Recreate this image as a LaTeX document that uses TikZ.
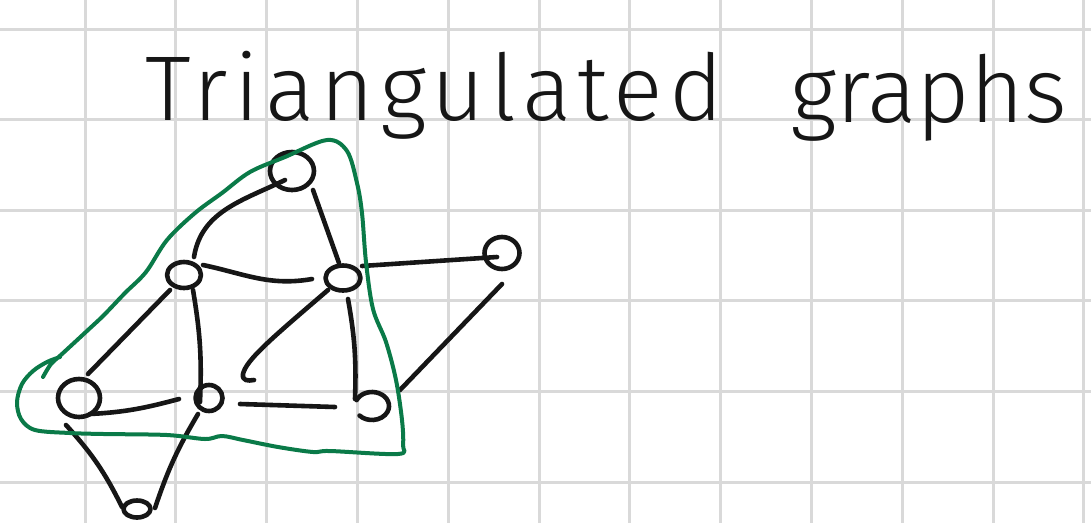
\documentclass[tikz,border=0pt]{standalone}
\usepackage{fontspec}
\IfFontExistsTF{Fira Sans Light}
  {\newfontfamily\handfont{Fira Sans Light}}
  {\newfontfamily\handfont{Fira Sans}}
\usetikzlibrary{shapes.geometric}
\definecolor{hullgreen}{RGB}{10,122,72}
\definecolor{penink}{RGB}{22,22,22}

\begin{document}
\begin{tikzpicture}[x=1pt,y=1pt,
  ink/.style={line width=4.6pt, line cap=round, line join=round, draw=penink},
  vertex/.style={ellipse, ink, inner sep=0pt, outer sep=0pt},
  hull/.style={line width=4pt, draw=hullgreen, line cap=round, line join=round},
  gridline/.style={line width=3pt, draw=black!15},
  title/.style={anchor=base west, inner sep=0pt, text=penink,
    font=\handfont\fontsize{92}{92}\selectfont}]

% paper and squared grid
\fill[white] (0,0) rectangle (1091,-523);
\useasboundingbox (0,0) rectangle (1091,-523);
\foreach \i in {0,...,11}
  \draw[gridline] ({85+90.8*\i},0) -- ({85+90.8*\i},-523);
\foreach \j in {0,...,5}
  \draw[gridline] (0,{-29-90.6*\j}) -- (1091,{-29-90.6*\j});

% heading
\node[title] (head1) at (145,-120) {\addfontfeature{LetterSpace=6.5}Triangulated};
\node[title] (head2) at (790,-122) {graphs};

% vertices
\node[vertex, minimum width=44pt, minimum height=38pt] (A) at (292,-171) {};
\node[vertex, minimum width=34pt, minimum height=26pt] (B) at (184,-275) {};
\node[vertex, minimum width=35pt, minimum height=25pt] (C) at (343,-278) {};
\node[vertex, minimum width=35pt, minimum height=32pt] (D) at (502,-253) {};
\node[vertex, minimum width=42pt, minimum height=38pt] (E) at (79,-398) {};
\node[vertex, minimum width=27pt, minimum height=26pt] (F) at (209,-398) {};
\node[vertex, draw=none, minimum width=34pt, minimum height=28pt] (G) at (372,-406) {};
\node[vertex, minimum width=27pt, minimum height=17pt] (H) at (137,-509) {};
% the open vertex on the lower right
\draw[ink] ([shift={(155:17 and 14)}]G.center)
  arc[start angle=155, end angle=-137, x radius=17, y radius=14];

% edges
\draw[ink] ([shift={(-7,-9)}]A.center) to[out=206,in=81] ([shift={(10,18)}]B.center);
\draw[ink] ([shift={(21,-19)}]A.center) -- ([shift={(-4,15)}]C.center);
\draw[ink] ([shift={(19,10)}]B.center) to[out=-12,in=190] ([shift={(-31,-1)}]C.center);
\draw[ink] ([shift={(19,12)}]C.center) -- ([shift={(-5,-4)}]D.center);
\draw[ink] ([shift={(-14,-15)}]B.center) -- ([shift={(9,24)}]E.center);
\draw[ink] ([shift={(9,-15)}]B.center) to[bend left=6] ([shift={(-9,-4)}]F.center);
\coordinate (Fend) at (254,-380);
\draw[ink] ([shift={(-15,-12)}]C.center) .. controls (272,-338) and (246,-360) .. (243,-374)
  .. controls (242,-381) and (248,-381) .. (Fend);
\draw[ink] ([shift={(5,-21)}]C.center) to[bend left=6] ([shift={(-17,7)}]G.center);
\draw[ink] ([shift={(11,-16)}]E.center) to[out=3,in=195] ([shift={(-30,-1)}]F.center);
\draw[ink] ([shift={(31,-6)}]F.center) -- ([shift={(-37,-1)}]G.center);
\draw[ink] ([shift={(0,-31)}]D.center) -- ([shift={(28,16)}]G.center);
\draw[ink] ([shift={(-13,-27)}]E.center) to[bend left=8] ([shift={(-15,2)}]H.center);
\draw[ink] ([shift={(-11,-16)}]F.center) to[bend right=6] ([shift={(18,1)}]H.center);

% green outline around the triangulated part
\draw[hull] plot[smooth, tension=0.55] coordinates {
  (43,-377) (51,-364) (62,-354) (88,-330) (104,-315) (125,-293) (146,-272)
  (167,-240) (195,-213) (222,-193) (250,-172) (285,-157) (327,-140)
  (347,-151) (357,-183) (362,-213) (366,-262) (373,-309) (386,-342)
  (396,-380) (402,-420) (403,-445) (398,-454) (330,-451) (313,-452)
  (278,-447) (243,-440) (222,-436) (205,-439) (167,-435) (104,-434)
  (70,-433) (35,-430) (21,-419) (17,-402) (22,-384) (33,-371) (47,-362)
  (60,-357)};
\end{tikzpicture}
\end{document}
